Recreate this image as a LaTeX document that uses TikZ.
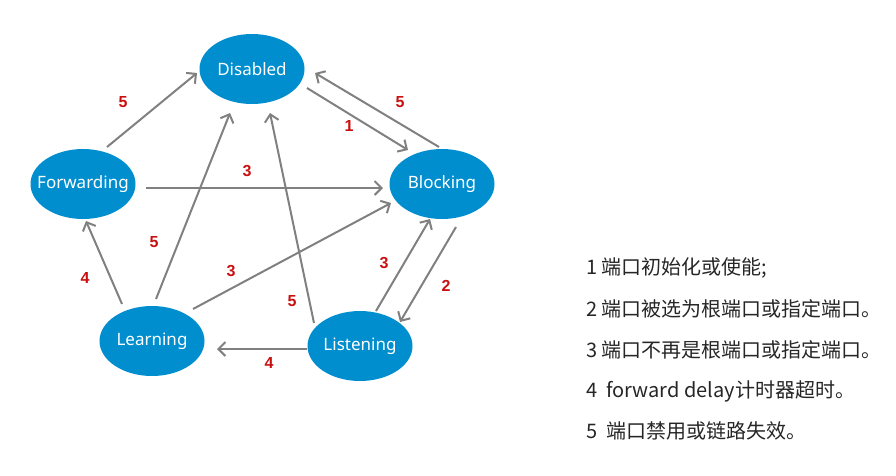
\documentclass[tikz,border=0pt]{standalone}
\usepackage{fontspec}
\setmainfont{Noto Sans}
\newfontfamily\cjk{Noto Sans CJK SC}
\newfontfamily\lblfont{Liberation Sans}
\usetikzlibrary{shapes.geometric,arrows.meta,calc}
\definecolor{nodeblue}{RGB}{0,142,206}
\definecolor{arrgray}{RGB}{128,128,128}
\definecolor{lblred}{RGB}{200,16,16}
\begin{document}
\begin{tikzpicture}[x=1pt,y=-1pt,
  state/.style={ellipse,fill=nodeblue,draw=none,minimum width=105pt,minimum height=70pt,inner xsep=-25pt,inner ysep=0pt,text=white,font=\fontsize{17}{20}\selectfont},
  conn/.style={draw=arrgray,line width=2pt,-{Straight Barb[length=7pt,width=14pt,line width=2pt]}},
  lbl/.style={text=lblred,font=\lblfont\bfseries\fontsize{16}{19}\selectfont},
  legend/.style={anchor=west,inner sep=0pt,font=\cjk\fontsize{20}{24}\selectfont,text=black!85}]
\useasboundingbox (0,0) rectangle (896,475);
\node[state] (dis) at (252,69) {Disabled};
\node[state] (fwd) at (83,184) {Forwarding};
\node[state] (blk) at (442,184) {Blocking};
\node[state] (lrn) at (152,341) {Learning};
\node[state] (lst) at (360,346) {Listening};
% arrows
\draw[conn] ($(fwd)+(24,-37)$) -- ($(dis)+(-55,4)$);
\draw[conn] ($(dis)+(55,19)$) -- ($(blk)+(-34,-34)$);
\draw[conn] ($(blk)+(-3,-37)$) -- ($(dis)+(63,4)$);
\draw[conn] ($(fwd)+(63,4)$) -- ($(blk)+(-59,4)$);
\draw[conn] ($(lrn)+(4,-42)$) -- ($(dis)+(-22,44)$);
\draw[conn] ($(lst)+(-46,-23)$) -- ($(dis)+(18,44)$);
\draw[conn] ($(lrn)+(41,-32)$) -- ($(blk)+(-51,19)$);
\draw[conn] ($(lst)+(16,-35)$) -- ($(blk)+(-12,35)$);
\draw[conn] ($(blk)+(14,43)$) -- ($(lst)+(40,-24)$);
\draw[conn] ($(lst)+(-53,3)$) -- ($(lrn)+(65,8)$);
\draw[conn] ($(lrn)+(-30,-37)$) -- ($(fwd)+(3,37)$);
% labels
\node[lbl] (l1) at (123,102) {5};
\node[lbl] (l2) at (349,126) {1};
\node[lbl] (l3) at (400,102) {5};
\node[lbl] (l4) at (247,171) {3};
\node[lbl] (l5) at (154,242) {5};
\node[lbl] (l6) at (85,278) {4};
\node[lbl] (l7) at (231,271) {3};
\node[lbl] (l8) at (292,301) {5};
\node[lbl] (l9) at (384,263) {3};
\node[lbl] (l10) at (446,286) {2};
\node[lbl] (l11) at (269,363) {4};
% legend
\node[legend] (g1) at (586,268) {1 端口初始化或使能;};
\node[legend] (g2) at (586,309) {2 端口被选为根端口或指定端口。};
\node[legend] (g3) at (586,350) {3 端口不再是根端口或指定端口。};
\node[legend] (g4) at (586,391) {4 \ forward delay计时器超时。};
\node[legend] (g5) at (586,431) {5 \ 端口禁用或链路失效。};
\end{tikzpicture}
\end{document}
